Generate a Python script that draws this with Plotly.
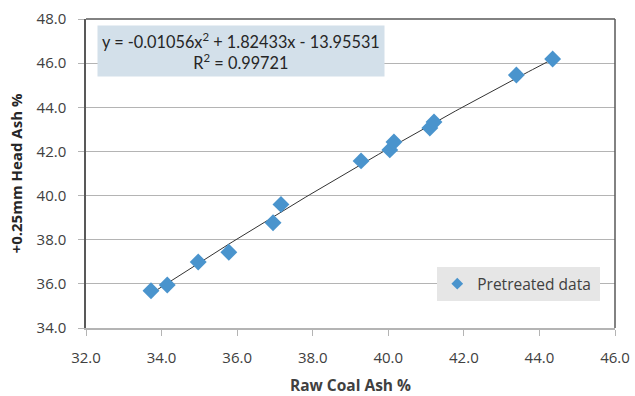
import numpy as np
import plotly.graph_objects as go

# Pretreated samples: raw coal ash vs +0.25mm head ash (%)
raw_ash = [33.72, 34.15, 34.97, 35.78, 36.95, 37.16, 39.28, 40.04, 40.15,
           41.10, 41.21, 43.39, 44.35]
head_ash = [35.69, 35.95, 36.99, 37.43, 38.77, 39.60, 41.57, 42.07, 42.43,
            43.06, 43.33, 45.46, 46.19]

# Second-order polynomial trendline coefficients (a*x^2 + b*x + c)
coef_a, coef_b, coef_c = -0.01056, 1.82433, -13.95531
r_squared = 0.99721

x_ticks = [32.0, 34.0, 36.0, 38.0, 40.0, 42.0, 44.0, 46.0]
y_ticks = [34.0, 36.0, 38.0, 40.0, 42.0, 44.0, 46.0, 48.0]

fit_x = np.linspace(min(raw_ash), max(raw_ash), 100)
fit_y = coef_a * fit_x**2 + coef_b * fit_x + coef_c

SANS = "Open Sans, DejaVu Sans, sans-serif"
tick_font = dict(family=SANS, size=15, color="#404040")
marker_color = "#4A94CD"

fig = go.Figure()
fig.add_trace(go.Scatter(
    x=fit_x, y=fit_y, mode="lines",
    line=dict(color="#333333", width=1),
    showlegend=False, hoverinfo="skip",
))
fig.add_trace(go.Scatter(
    x=raw_ash, y=head_ash, mode="markers", name="Pretreated data",
    marker=dict(symbol="diamond", size=13, color=marker_color,
                line=dict(width=0)),
    showlegend=False,
))
# legend entry with the smaller key symbol
fig.add_trace(go.Scatter(
    x=[None], y=[None], mode="markers", name="Pretreated data ",
    marker=dict(symbol="diamond", size=9, color=marker_color),
))

fig.update_layout(
    width=635, height=396,
    margin=dict(l=86, r=20, t=19, b=68),
    paper_bgcolor="white", plot_bgcolor="white",
    font=tick_font,
    xaxis=dict(
        range=[32, 46], tickvals=x_ticks,
        ticktext=[f"{v:.1f}" for v in x_ticks],
        showgrid=False, zeroline=False, automargin=False,
        showline=True, linecolor="#B4B4B4", linewidth=1.5,
        ticks="outside", ticklen=6, tickcolor="#B4B4B4",
        ticklabelstandoff=9,
        tickfont=tick_font,
        title=dict(text="<b>Raw Coal Ash %</b>", standoff=14,
                   font=dict(family=SANS, size=15.5, color="#404040")),
    ),
    yaxis=dict(
        range=[34, 48], tickvals=y_ticks,
        ticktext=[f"{v:.1f}" for v in y_ticks],
        showgrid=True, gridcolor="#B4B4B4", gridwidth=1.2,
        zeroline=False, automargin=False,
        showline=True, linecolor="#595959", linewidth=1.5,
        ticks="outside", ticklen=6, tickcolor="#B4B4B4",
        ticklabelstandoff=9,
        tickfont=tick_font,
        title=dict(text="<b>+0.25mm Head Ash %</b>", standoff=10,
                   font=dict(family=SANS, size=15, color="#262626")),
    ),
    legend=dict(
        x=0.664, y=0.197, xanchor="left", yanchor="top",
        bgcolor="#E6E6E6", borderwidth=0,
        font=dict(family=SANS, size=15.5, color="#404040"),
        itemwidth=30,
    ),
    shapes=[
        # plot-area border (top and right edges)
        dict(type="line", xref="paper", yref="paper", x0=0, x1=1, y0=1, y1=1,
             line=dict(color="#595959", width=1.5)),
        dict(type="line", xref="paper", yref="paper", x0=1, x1=1, y0=0, y1=1,
             line=dict(color="#595959", width=1.5)),
    ],
)

eq_text = (f"y = {coef_a:.5f}x<sup>2</sup> + {coef_b:.5f}x - {abs(coef_c):.5f}"
           f"<br>R<sup>2</sup> = {r_squared:.5f}")
fig.add_annotation(
    xref="paper", yref="paper", x=0.02, y=0.981, xanchor="left", yanchor="top",
    text=eq_text, showarrow=False, align="center",
    bgcolor="#D3E0EA", borderpad=4,
    font=dict(family="Lato, Carlito, sans-serif", size=16.3, color="#262626"),
)

fig.write_html("out.html")
